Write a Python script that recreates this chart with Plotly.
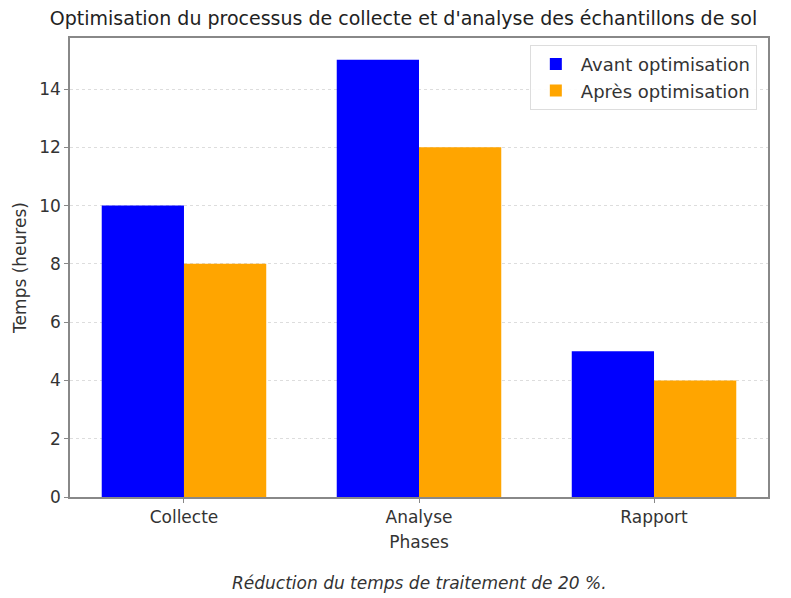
import plotly.graph_objects as go

phases = ["Collecte", "Analyse", "Rapport"]
avant = [10, 15, 5]
apres = [8, 12, 4]
series_names = ["Avant optimisation", "Après optimisation"]
y_ticks = [0, 2, 4, 6, 8, 10, 12, 14]

FONT = "DejaVu Sans"
fig = go.Figure()
fig.add_trace(go.Bar(x=phases, y=avant, name=series_names[0], marker_color="#0000FF",
                     marker_line_width=0))
fig.add_trace(go.Bar(x=phases, y=apres, name=series_names[1], marker_color="#FFA500",
                     marker_line_width=0))

fig.update_layout(
    width=791, height=598,
    margin=dict(l=62, r=31, t=30, b=109),
    paper_bgcolor="white", plot_bgcolor="white",
    barmode="group", bargap=0.3, bargroupgap=0,
    font=dict(family=FONT, color="#333333", size=16),
    title=dict(text="Optimisation du processus de collecte et d'analyse des échantillons de sol",
               x=0.5, xanchor="center", y=0.983, yanchor="middle",
               font=dict(size=19, color="#222222")),
    xaxis=dict(range=[-0.485, 2.485], showline=True, linecolor="#888888", linewidth=1.5,
               mirror=True, ticks="outside", ticklen=4, tickcolor="#888888",
               title=dict(text="Phases", font=dict(size=17), standoff=10),
               tickfont=dict(size=17)),
    yaxis=dict(range=[0, 15.75], tickvals=y_ticks, showline=True, linecolor="#888888",
               linewidth=1.5, mirror=True, ticks="outside", ticklen=4, tickcolor="#888888",
               showgrid=True, gridcolor="#dddddd", griddash="dot", gridwidth=1,
               zeroline=False,
               title=dict(text="Temps (heures)", font=dict(size=17), standoff=8),
               tickfont=dict(size=17)),
    legend=dict(x=0.984, y=0.985, xanchor="right", yanchor="top",
                bgcolor="rgba(255,255,255,0.9)", bordercolor="#dddddd", borderwidth=1,
                font=dict(size=18), itemwidth=40),
    annotations=[dict(text="<i>Réduction du temps de traitement de 20 %.</i>",
                      xref="paper", yref="paper", x=0.5, y=-0.187,
                      xanchor="center", yanchor="middle", showarrow=False,
                      font=dict(size=17, color="#333333"))],
)
fig.write_html("out.html")
